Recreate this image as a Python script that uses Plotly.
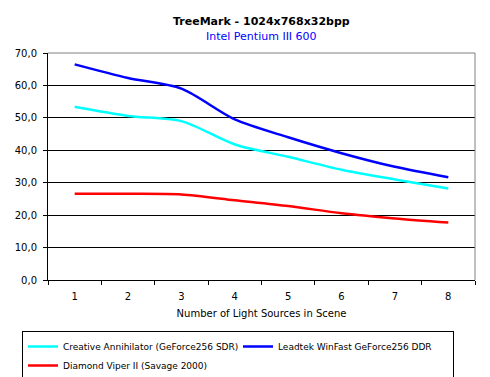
import plotly.graph_objects as go

categories = ["1", "2", "3", "4", "5", "6", "7", "8"]
creative = [53.4, 50.6, 49.0, 41.8, 38.0, 34.0, 31.0, 28.2]
leadtek = [66.5, 62.3, 59.0, 49.5, 44.0, 39.1, 34.9, 31.7]
diamond = [26.6, 26.6, 26.4, 24.6, 22.8, 20.6, 19.0, 17.7]
yticks = [0, 10, 20, 30, 40, 50, 60, 70]

FONT = "DejaVu Sans"
W, H = 490, 377
L, R, T, B = 48, 15, 53, 97
PW, PH = W - L - R, H - T - B

fig = go.Figure()
fig.add_trace(go.Scatter(x=categories, y=creative, mode="lines", name="Creative Annihilator (GeForce256 SDR)",
                         line=dict(color="#00FFFF", width=2.5, shape="spline", smoothing=0.8)))
fig.add_trace(go.Scatter(x=categories, y=leadtek, mode="lines", name="Leadtek WinFast GeForce256 DDR",
                         line=dict(color="#0000FF", width=2.5, shape="spline", smoothing=0.8)))
fig.add_trace(go.Scatter(x=categories, y=diamond, mode="lines", name="Diamond Viper II (Savage 2000)",
                         line=dict(color="#FF0000", width=2.5, shape="spline", smoothing=0.8)))

fig.update_layout(
    width=W, height=H,
    margin=dict(l=L, r=R, t=T, b=B, autoexpand=False),
    paper_bgcolor="white", plot_bgcolor="white",
    separators=",.",
    font=dict(family=FONT, size=10, color="black"),
    showlegend=True,
    legend=dict(orientation="h", x=(22 - L) / PW, xanchor="left", y=-(331 - (T + PH)) / PH, yanchor="top",
                bordercolor="black", borderwidth=1, bgcolor="white",
                font=dict(family=FONT, size=9), entrywidth=170, entrywidthmode="pixels",
                tracegroupgap=0, itemwidth=30),
    xaxis=dict(type="category", range=[-0.5, 7.5], showgrid=False, showline=True, linecolor="black", linewidth=1,
               ticks="outside", ticklen=4, tickcolor="black", tickson="boundaries", automargin=False,
               ticklabelstandoff=7,
               title=dict(text="Number of Light Sources in Scene", font=dict(size=10), standoff=8),
               zeroline=False),
    yaxis=dict(range=[0, 70], tickvals=yticks, tickformat=".1f", showgrid=True, gridcolor="black",
               gridwidth=1, showline=True, linecolor="black", linewidth=1, ticks="outside", ticklen=4,
               tickcolor="black", zeroline=False, ticklabelstandoff=4, automargin=False),
    annotations=[
        dict(text="<b>TreeMark - 1024x768x32bpp</b>", x=0.5, xref="paper", y=1 + (T - 21) / PH, yref="paper",
             yanchor="middle", showarrow=False, font=dict(size=11, color="black")),
        dict(text="Intel Pentium III 600", x=0.5, xref="paper", y=1 + (T - 36) / PH, yref="paper",
             yanchor="middle", showarrow=False, font=dict(size=11, color="#0000FF")),
    ],
    shapes=[
        dict(type="line", xref="paper", yref="paper", x0=0, x1=1, y0=1, y1=1, line=dict(color="#808080", width=1), layer="above"),
        dict(type="line", xref="paper", yref="paper", x0=1, x1=1, y0=0, y1=1, line=dict(color="#808080", width=1), layer="above"),
    ],
)

fig.write_html("out.html", config={"displayModeBar": False}, post_script="document.body.style.margin='0';")
